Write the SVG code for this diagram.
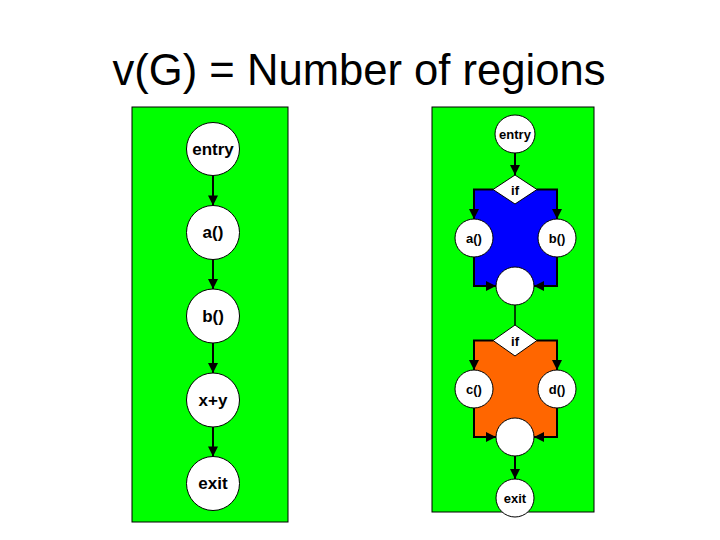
<svg xmlns="http://www.w3.org/2000/svg" width="720" height="540" viewBox="0 0 720 540">
<style>
.title{font-family:"Liberation Sans",Arial,sans-serif;font-size:43.6px;fill:#000}
.panel{fill:#00ff00;stroke:#000;stroke-width:1}
.node{fill:#fff;stroke:#000;stroke-width:1}
.lbl{font-family:"Liberation Sans",Arial,sans-serif;font-weight:bold;fill:#000;text-anchor:middle;dominant-baseline:central}
.big{font-size:17px}
.small{font-size:13px}
.edge{fill:none;stroke:#000;stroke-width:2}
.thin{fill:none;stroke:#000;stroke-width:1.5}
</style>
<defs>
<marker id="ah" viewBox="0 0 10 10" refX="10" refY="5" markerWidth="12" markerHeight="10" markerUnits="userSpaceOnUse" orient="auto">
<path d="M0,0 L10,5 L0,10 z" fill="#000"/>
</marker>
<marker id="ahs" viewBox="0 0 10 10" refX="10" refY="5" markerWidth="10" markerHeight="10" markerUnits="userSpaceOnUse" orient="auto">
<path d="M0,0 L10,5 L0,10 z" fill="#000"/>
</marker>
</defs>
<rect width="720" height="540" fill="#fff"/>
<text class="title" x="359" y="85" text-anchor="middle">v(G) = Number of regions</text>
<g id="panels">
<rect class="panel" x="132" y="107" width="156" height="415"/>
<rect class="panel" x="432" y="107" width="162" height="405"/>
<rect x="474" y="189.5" width="83" height="96.5" fill="#0000ff"/>
<rect x="474" y="340.5" width="83" height="96.5" fill="#ff6600"/>
</g>
<g id="connectors">
<line class="edge" x1="213" y1="175.5" x2="213" y2="205.5" marker-end="url(#ah)"/>
<line class="edge" x1="213" y1="259" x2="213" y2="289" marker-end="url(#ah)"/>
<line class="edge" x1="213" y1="343" x2="213" y2="373" marker-end="url(#ah)"/>
<line class="edge" x1="213" y1="427" x2="213" y2="456.5" marker-end="url(#ah)"/>
<line class="edge" x1="515" y1="153" x2="515" y2="175" marker-end="url(#ahs)"/>
<path class="edge" d="M493,189.5 H474 V219" marker-end="url(#ahs)"/>
<path class="edge" d="M537,189.5 H557 V219" marker-end="url(#ahs)"/>
<path class="edge" d="M474,257 V286 H496" marker-end="url(#ahs)"/>
<path class="edge" d="M557,257 V286 H534" marker-end="url(#ahs)"/>
<line class="thin" x1="515" y1="305" x2="515" y2="325"/>
<path class="edge" d="M493,340.5 H474 V370" marker-end="url(#ahs)"/>
<path class="edge" d="M537,340.5 H557 V370" marker-end="url(#ahs)"/>
<path class="edge" d="M474,408 V437 H496" marker-end="url(#ahs)"/>
<path class="edge" d="M557,408 V437 H534" marker-end="url(#ahs)"/>
<line class="edge" x1="515" y1="456" x2="515" y2="479" marker-end="url(#ahs)"/>
</g>
<g id="L-entry"><ellipse class="node" cx="213" cy="149" rx="26.5" ry="26.5"/><text class="lbl big" x="213" y="149">entry</text></g>
<g id="L-a"><ellipse class="node" cx="213" cy="232.5" rx="26.5" ry="27"/><text class="lbl big" x="213" y="232.5">a()</text></g>
<g id="L-b"><ellipse class="node" cx="213" cy="316" rx="26.5" ry="27"/><text class="lbl big" x="213" y="316">b()</text></g>
<g id="L-xy"><ellipse class="node" cx="213" cy="400" rx="26.5" ry="27"/><text class="lbl big" x="213" y="400">x+y</text></g>
<g id="L-exit"><ellipse class="node" cx="213" cy="483.5" rx="26.5" ry="27"/><text class="lbl big" x="213" y="483.5">exit</text></g>
<g id="R-entry"><ellipse class="node" cx="515" cy="134" rx="20" ry="19"/><text class="lbl small" x="515" y="134">entry</text></g>
<g id="R-if1"><polygon class="node" points="515,175 537,189.5 515,204 493,189.5"/><text class="lbl small" x="515" y="190">if</text></g>
<g id="R-a"><circle class="node" cx="474" cy="238" r="19"/><text class="lbl small" x="474" y="238">a()</text></g>
<g id="R-b"><circle class="node" cx="557" cy="238" r="19"/><text class="lbl small" x="557" y="238">b()</text></g>
<g id="R-m1"><circle class="node" cx="515" cy="286" r="19"/></g>
<g id="R-if2"><polygon class="node" points="515,325 537,340.5 515,356 493,340.5"/><text class="lbl small" x="515" y="341">if</text></g>
<g id="R-c"><circle class="node" cx="474" cy="389" r="19"/><text class="lbl small" x="474" y="389">c()</text></g>
<g id="R-d"><circle class="node" cx="557" cy="389" r="19"/><text class="lbl small" x="557" y="389">d()</text></g>
<g id="R-m2"><circle class="node" cx="515" cy="437" r="19"/></g>
<g id="R-exit"><circle class="node" cx="515" cy="498" r="19"/><text class="lbl small" x="515" y="498">exit</text></g>
</svg>
